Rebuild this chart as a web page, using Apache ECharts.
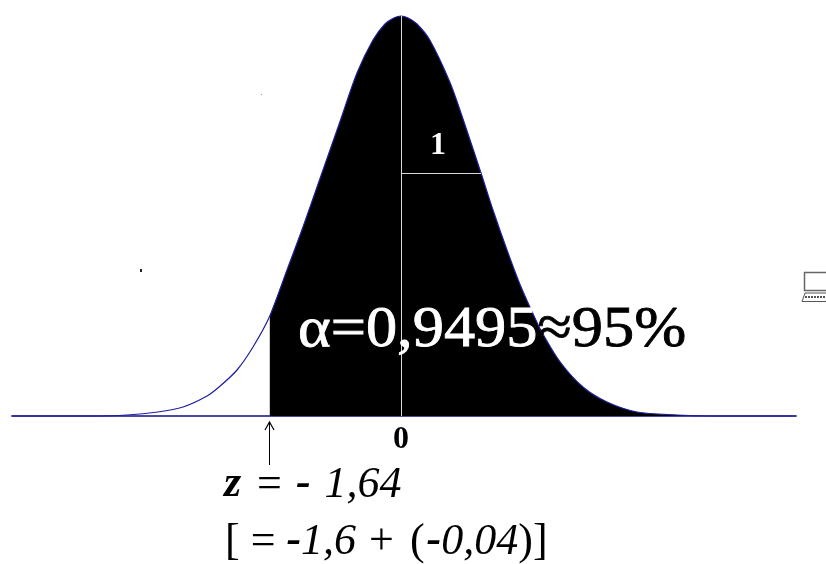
<!DOCTYPE html>
<html>
<head>
<meta charset="utf-8">
<style>
html, body { margin: 0; padding: 0; background: #fff; }
#chart { width: 826px; height: 564px; }
</style>
<script src="https://cdn.jsdelivr.net/npm/echarts@6/dist/echarts.min.js"></script>
</head>
<body>
<div id="chart"></div>
<script>
// values: z position and curve height (peak = 400)
var curveZ = [-4.86, -3.9, -3.425, -3.04, -2.725, -2.425, -2.26, -2.05, -1.85, -1.64, -1.425, -1.225, -1.01, -0.76, -0.55, -0.35, -0.2, -0.09, 0, 0.09, 0.2, 0.36, 0.61, 0.775, 1, 1.15, 1.325, 1.49, 1.64, 1.76, 1.99, 2.275, 2.575, 2.95, 3.45, 3.9, 4.93];
var curveH = [0, 0, 1, 4, 9, 20, 30, 46, 69, 100, 146, 189, 238, 295, 343, 376, 392, 398, 400, 398, 392, 376, 334, 297, 243, 206, 166, 131, 104, 84, 54, 29, 14, 4, 1, 0, 0];
var zCut = -1.64;
var tickLabels = [0];
var sigmaHeight = 243;

var curve = curveZ.map(function (z, i) { return [z, curveH[i]]; });
var filled = curve.filter(function (p) { return p[0] >= zCut; });

var serif = '"Liberation Serif", "Times New Roman", serif';
var textRich = {
	b: { fill: '#000', font: 'italic bold 44px ' + serif },
	m: { fill: '#000', font: 'italic bold 44px ' + serif, padding: [0, 3, 0, 0] },
	i: { fill: '#000', font: 'italic 44px ' + serif },
	n: { fill: '#000', font: '44px ' + serif },
	p: { fill: '#000', font: '44px ' + serif, padding: [0, 2, 0, 0] },
	e: { fill: '#000', font: '44px ' + serif, padding: [0, 14, 0, 16] },
	f: { fill: '#000', font: '44px ' + serif, padding: [0, 16, 0, 13] }
};
var myChart = echarts.init(document.getElementById('chart'));

var option = {
	backgroundColor: '#fff',
	animation: false,
	grid: { left: 12, right: 30, top: 16, bottom: 148, outerBoundsMode: 'none' },
	xAxis: {
		type: 'value',
		min: -4.8625,
		max: 4.9375,
		splitLine: { show: false },
		axisTick: { show: false },
		axisLine: { show: true, symbol: 'none', lineStyle: { color: '#4a4aa6', width: 2 } },
		axisLabel: {
			customValues: tickLabels,
			margin: 8,
			color: '#000',
			fontFamily: serif,
			fontWeight: 'bold',
			fontSize: 32
		}
	},
	yAxis: { type: 'value', min: 0, max: 400, show: false },
	series: [
		{
			name: 'area',
			type: 'line',
			data: filled,
			smooth: 0.3,
			symbol: 'none',
			clip: false,
			lineStyle: { width: 0 },
			areaStyle: { color: '#000', opacity: 1, origin: 0 },
			z: 2
		},
		{
			name: 'curve',
			type: 'line',
			data: curve,
			smooth: 0.3,
			symbol: 'none',
			clip: false,
			lineStyle: { color: '#1f1f9c', width: 1.2 },
			z: 3
		},
		{
			name: 'guides',
			type: 'line',
			data: [],
			symbol: 'none',
			z: 4,
			markLine: {
				silent: true,
				animation: false,
				symbol: 'none',
				label: { show: false },
				lineStyle: { color: '#d8d8d8', width: 1, type: 'solid' },
				data: [
					[{ coord: [0, 0] }, { coord: [0, 400] }],
					[{ coord: [0, sigmaHeight] }, { coord: [1, sigmaHeight] }]
				]
			}
		}
	],
	graphic: [
		{
			type: 'text', z: 100, x: 430, y: 130,
			style: { text: '1', fill: '#fff', font: 'bold 32px ' + serif }
		},
		{
			type: 'text', z: 100, x: 298, y: 302, scaleX: 1.076,
			style: {
				text: '{w|α=0,9495}{k|≈95%}',
				rich: {
					w: { fill: '#fff', stroke: '#fff', lineWidth: 0.8, font: '58px ' + serif },
					k: { fill: '#000', stroke: '#000', lineWidth: 0.8, font: '58px ' + serif }
				}
			}
		},
		{
			type: 'text', z: 100, x: 224, y: 463,
			style: { text: '{b|z}{e|=}{m|- }{i|1,64}', rich: textRich }
		},
		{
			type: 'text', z: 100, x: 225, y: 520,
			style: { text: '{n|[ = }{b|-}{i|1,6}{f|+}{p|(}{b|-}{i|0,04}{n|)]}', rich: textRich }
		},
		// arrow under the cut point
		{ type: 'line', z: 100, shape: { x1: 269.5, y1: 465, x2: 269.5, y2: 422 }, style: { stroke: '#000', lineWidth: 1 } },
		{ type: 'polyline', z: 100, shape: { points: [[265, 430], [269.5, 422], [274, 430]] }, style: { stroke: '#000', lineWidth: 1.2, fill: 'none' } },
		// stray specks in the scan
		{ type: 'rect', z: 100, shape: { x: 261, y: 94, width: 1, height: 1 }, style: { fill: '#5fbf5f' } },
		{ type: 'rect', z: 100, shape: { x: 140, y: 269, width: 2, height: 3 }, style: { fill: '#222' } },
		// little laptop icon cut by the right edge
		{ type: 'rect', z: 100, shape: { x: 804.5, y: 272.5, width: 30, height: 18 }, style: { fill: '#fff', stroke: '#666', lineWidth: 1.5 } },
		{ type: 'polygon', z: 100, shape: { points: [[805, 293], [830, 293], [830, 301.5], [802, 301.5]] }, style: { fill: '#fff', stroke: '#555', lineWidth: 1 } },
		{ type: 'line', z: 100, shape: { x1: 805, y1: 297, x2: 826, y2: 297 }, style: { stroke: '#555', lineWidth: 2, lineDash: [2, 1] } }
	]
};
myChart.setOption(option);
</script>
</body>
</html>
